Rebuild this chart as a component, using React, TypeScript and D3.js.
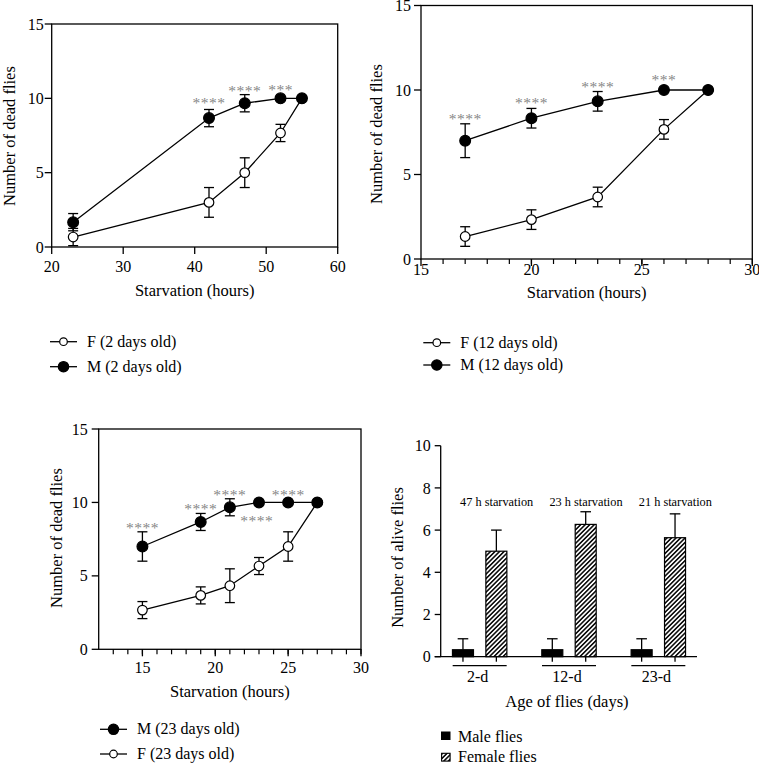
import React from 'react';
import * as d3 from 'd3';

const FONT = '"Liberation Serif", "Times New Roman", serif';
const STAR_COLOR = '#858585';

// ---------- Panel A : 2 days old ----------
const hoursA = [23, 42, 47, 52, 55];
const femaleA = [0.67, 3, 5, 7.67, 10];
const femaleErrA = [0.58, 1, 1, 0.58, 0];
const maleA = [1.67, 8.67, 9.67, 10, 10];
const maleErrA = [0.58, 0.58, 0.58, 0, 0];
const starXA = [42, 47, 52];
const starYA = [9.85, 10.67, 10.7];
const starLabelA = ['****', '****', '***'];
const xTicksA = [20, 30, 40, 50, 60];

// ---------- Panel B : 12 days old ----------
const hoursB = [17, 20, 23, 26, 28];
const femaleB = [1.33, 2.33, 3.67, 7.67, 10];
const femaleErrB = [0.58, 0.58, 0.58, 0.58, 0];
const maleB = [7, 8.33, 9.33, 10, 10];
const maleErrB = [1, 0.58, 0.58, 0, 0];
const starXB = [17, 20, 23, 26];
const starYB = [8.46, 9.35, 10.3, 10.73];
const starLabelB = ['****', '****', '****', '***'];
const xTicksB = [15, 20, 25, 30];

// ---------- Panel C : 23 days old ----------
const hoursC = [15, 19, 21, 23, 25, 27];
const femaleC = [2.67, 3.67, 4.33, 5.67, 7, 10];
const femaleErrC = [0.58, 0.58, 1.15, 0.58, 1, 0];
const maleC = [7, 8.67, 9.67, 10, 10, 10];
const maleErrC = [1, 0.58, 0.58, 0, 0, 0];
const starXC = [15, 19, 21, 22.85, 25];
const starYC = [8.42, 9.71, 10.66, 8.92, 10.66];
const starLabelC = ['****', '****', '****', '****', '****'];
const xTicksC = [15, 20, 25, 30];

const yTicksLine = [0, 5, 10, 15];

// ---------- Panel D : alive flies ----------
const ageGroups = ['2-d', '12-d', '23-d'];
const sexes = ['Male', 'Female'];
const maleAlive = [0.33, 0.33, 0.33];
const maleAliveErr = [0.52, 0.52, 0.52];
const femaleAlive = [5, 6.27, 5.64];
const femaleAliveErr = [1, 0.6, 1.13];
const starvationNotes = ['47 h starvation', '23 h starvation', '21 h starvation'];
const yTicksBar = [0, 2, 4, 6, 8, 10];

type Series = { x: number[]; y: number[]; err: number[]; filled: boolean };

function LinePanel(props: {
  left: number; right: number; top: number; bottom: number;
  xDomain: [number, number]; xTicks: number[]; minor: boolean;
  series: Series[];
  starX: number[]; starY: number[]; starLabel: string[];
  yLabelX: number; yLabelY: number; xLabelY: number; xTickDy: number; yTickGap: number;
  legend: { label: string; filled: boolean; cy: number }[];
  legendX: number;
}) {
  const p = props;
  const x = d3.scaleLinear().domain(p.xDomain).range([p.left, p.right]);
  const y = d3.scaleLinear().domain([0, 15]).range([p.bottom, p.top]);
  const line = d3.line<[number, number]>().x(d => x(d[0])).y(d => y(d[1]));
  const minorTicks = p.minor ? d3.range(Math.ceil(p.xDomain[0]) + 1, p.xDomain[1] + 0.5, 1) : [];
  const cx = (p.left + p.right) / 2;
  return (
    <g fontFamily={FONT}>
      <rect x={p.left} y={p.top} width={p.right - p.left} height={p.bottom - p.top}
        fill="none" stroke="#000" strokeWidth={1.3} />
      {minorTicks.map(t => (
        <line key={'m' + t} x1={x(t)} x2={x(t)} y1={p.bottom} y2={p.bottom + 5} stroke="#000" strokeWidth={1.2} />
      ))}
      {p.xTicks.map(t => (
        <g key={'x' + t}>
          <line x1={x(t)} x2={x(t)} y1={p.bottom} y2={p.bottom + 7} stroke="#000" strokeWidth={1.3} />
          <text x={x(t)} y={p.bottom + p.xTickDy} textAnchor="middle" fontSize={16}>{t}</text>
        </g>
      ))}
      {yTicksLine.map(t => (
        <g key={'y' + t}>
          <line x1={p.left - 7} x2={p.left} y1={y(t)} y2={y(t)} stroke="#000" strokeWidth={1.3} />
          <text x={p.left - p.yTickGap} y={y(t)} dy="0.35em" textAnchor="end" fontSize={16}>{t}</text>
        </g>
      ))}
      <text x={cx} y={p.xLabelY} textAnchor="middle" fontSize={16.5}>Starvation (hours)</text>
      <text transform={`translate(${p.yLabelX},${p.yLabelY}) rotate(-90)`} textAnchor="middle" fontSize={16.5}>
        Number of dead flies
      </text>
      {p.series.map((s, i) => (
        <path key={'l' + i} d={line(s.x.map((v, j) => [v, s.y[j]] as [number, number])) || ''}
          fill="none" stroke="#000" strokeWidth={1.3} />
      ))}
      {p.series.map((s, i) => (
        <g key={'e' + i}>
          {s.x.map((v, j) => s.err[j] > 0 ? (
            <g key={j}>
              <line x1={x(v)} x2={x(v)} y1={y(Math.max(0, s.y[j] - s.err[j]))} y2={y(s.y[j] + s.err[j])} stroke="#000" strokeWidth={1.3} />
              <line x1={x(v) - 5} x2={x(v) + 5} y1={y(s.y[j] + s.err[j])} y2={y(s.y[j] + s.err[j])} stroke="#000" strokeWidth={1.3} />
              <line x1={x(v) - 5} x2={x(v) + 5} y1={y(Math.max(0, s.y[j] - s.err[j]))} y2={y(Math.max(0, s.y[j] - s.err[j]))} stroke="#000" strokeWidth={1.3} />
            </g>
          ) : null)}
        </g>
      ))}
      {p.series.map((s, i) => (
        <g key={'c' + i}>
          {s.x.map((v, j) => (
            <circle key={j} cx={x(v)} cy={y(s.y[j])} r={s.filled ? 5.4 : 4.8}
              fill={s.filled ? '#000' : '#fff'} stroke="#000" strokeWidth={1.2} />
          ))}
        </g>
      ))}
      {p.starX.map((v, i) => (
        <text key={'s' + i} x={x(v)} y={y(p.starY[i]) + 7.5} textAnchor="middle" fontSize={15.5}
          fill={STAR_COLOR} letterSpacing={0.5}>{p.starLabel[i]}</text>
      ))}
      {p.legend.map((l, i) => (
        <g key={'lg' + i}>
          <line x1={p.legendX} x2={p.legendX + 27} y1={l.cy} y2={l.cy} stroke="#000" strokeWidth={1.3} />
          <circle cx={p.legendX + 13.5} cy={l.cy} r={l.filled ? 5.2 : 3.8}
            fill={l.filled ? '#000' : '#fff'} stroke="#000" strokeWidth={1.2} />
          <text x={p.legendX + 37} y={l.cy + 5} fontSize={16}>{l.label}</text>
        </g>
      ))}
    </g>
  );
}

function BarPanel() {
  const left = 440.7, right = 697, top = 445.7, bottom = 656.7;
  const y = d3.scaleLinear().domain([0, 10]).range([bottom, top]);
  const xg = d3.scaleBand().domain(ageGroups).range([435, 703]).paddingInner(0);
  const xs = d3.scaleBand().domain(sexes).range([-33.4, 33.4]).paddingInner(0.371).paddingOuter(0.1855);
  const bw = xs.bandwidth();
  const vals = [maleAlive, femaleAlive];
  const errs = [maleAliveErr, femaleAliveErr];
  return (
    <g fontFamily={FONT}>
      <defs>
        <pattern id="hatch" patternUnits="userSpaceOnUse" width={3.2} height={3.2} patternTransform="rotate(45)">
          <rect width={3.2} height={3.2} fill="#fff" />
          <line x1={0.8} x2={0.8} y1={0} y2={3.2} stroke="#000" strokeWidth={1.5} />
        </pattern>
      </defs>
      <line x1={left} x2={left} y1={top} y2={bottom} stroke="#000" strokeWidth={1.3} />
      <line x1={left - 6} x2={right} y1={bottom} y2={bottom} stroke="#000" strokeWidth={1.3} />
      {yTicksBar.map(t => (
        <g key={t}>
          <line x1={left - 6} x2={left} y1={y(t)} y2={y(t)} stroke="#000" strokeWidth={1.3} />
          <text x={left - 10} y={y(t)} dy="0.35em" textAnchor="end" fontSize={16}>{t}</text>
        </g>
      ))}
      {ageGroups.map((g, gi) => {
        const gc = (xg(g) as number) + xg.bandwidth() / 2;
        return (
          <g key={g}>
            {sexes.map((s, si) => {
              const bx = gc + (xs(s) as number);
              const bc = bx + bw / 2;
              const v = vals[si][gi];
              const e = errs[si][gi];
              return (
                <g key={s}>
                  <line x1={bc} x2={bc} y1={y(v)} y2={y(v + e)} stroke="#000" strokeWidth={1.3} />
                  <line x1={bc - 5.3} x2={bc + 5.3} y1={y(v + e)} y2={y(v + e)} stroke="#000" strokeWidth={1.3} />
                  <rect x={bx} y={y(v)} width={bw} height={bottom - y(v)}
                    fill={si === 0 ? '#000' : 'url(#hatch)'} stroke="#000" strokeWidth={1.2} />
                  <line x1={bc} x2={bc} y1={bottom} y2={bottom + 5} stroke="#000" strokeWidth={1.3} />
                </g>
              );
            })}
            <line x1={gc - 27} x2={gc + 27} y1={665.7} y2={665.7} stroke="#000" strokeWidth={1.3} />
            <text x={gc - 2} y={681.5} textAnchor="middle" fontSize={16}>{g}</text>
            <text x={gc + 17} y={506} textAnchor="middle" fontSize={12.3}>{starvationNotes[gi]}</text>
          </g>
        );
      })}
      <text x={567} y={707} textAnchor="middle" fontSize={16.5}>Age of flies (days)</text>
      <text transform="translate(403,557.5) rotate(-90)" textAnchor="middle" fontSize={16.5}>Number of alive flies</text>
      <rect x={441} y={731.5} width={9.5} height={8.5} fill="#000" />
      <text x={458} y={741.5} fontSize={16}>Male flies</text>
      <rect x={441.6} y={753.3} width={8.5} height={7.8} fill="url(#hatch)" stroke="#000" strokeWidth={1.1} />
      <text x={458} y={762} fontSize={16}>Female flies</text>
    </g>
  );
}

export default function App() {
  return (
    <svg width={759} height={766} style={{ position: 'absolute', left: 0, top: 0, background: '#fff' }}>
      <rect width={759} height={766} fill="#fff" />
      <LinePanel left={51.7} right={337.7} top={24} bottom={247}
        xDomain={[20, 60]} xTicks={xTicksA} minor={false}
        series={[
          { x: hoursA, y: femaleA, err: femaleErrA, filled: false },
          { x: hoursA, y: maleA, err: maleErrA, filled: true },
        ]}
        starX={starXA} starY={starYA} starLabel={starLabelA}
        yLabelX={15} yLabelY={136} xLabelY={296} xTickDy={24.5} yTickGap={8}
        legendX={50}
        legend={[{ label: 'F (2 days old)', filled: false, cy: 341.7 }, { label: 'M (2 days old)', filled: true, cy: 366.7 }]} />
      <LinePanel left={421} right={752.3} top={5.5} bottom={259}
        xDomain={[15, 30]} xTicks={xTicksB} minor={true}
        series={[
          { x: hoursB, y: femaleB, err: femaleErrB, filled: false },
          { x: hoursB, y: maleB, err: maleErrB, filled: true },
        ]}
        starX={starXB} starY={starYB} starLabel={starLabelB}
        yLabelX={382} yLabelY={134} xLabelY={298} xTickDy={16} yTickGap={10}
        legendX={423.3}
        legend={[{ label: 'F (12 days old)', filled: false, cy: 342.7 }, { label: 'M (12 days old)', filled: true, cy: 365 }]} />
      <LinePanel left={98.7} right={361} top={429} bottom={649.3}
        xDomain={[12, 30]} xTicks={xTicksC} minor={true}
        series={[
          { x: hoursC, y: femaleC, err: femaleErrC, filled: false },
          { x: hoursC, y: maleC, err: maleErrC, filled: true },
        ]}
        starX={starXC} starY={starYC} starLabel={starLabelC}
        yLabelX={62} yLabelY={538} xLabelY={697} xTickDy={24} yTickGap={11}
        legendX={100}
        legend={[{ label: 'M (23 days old)', filled: true, cy: 729.3 }, { label: 'F (23 days old)', filled: false, cy: 754 }]} />
      <BarPanel />
    </svg>
  );
}
